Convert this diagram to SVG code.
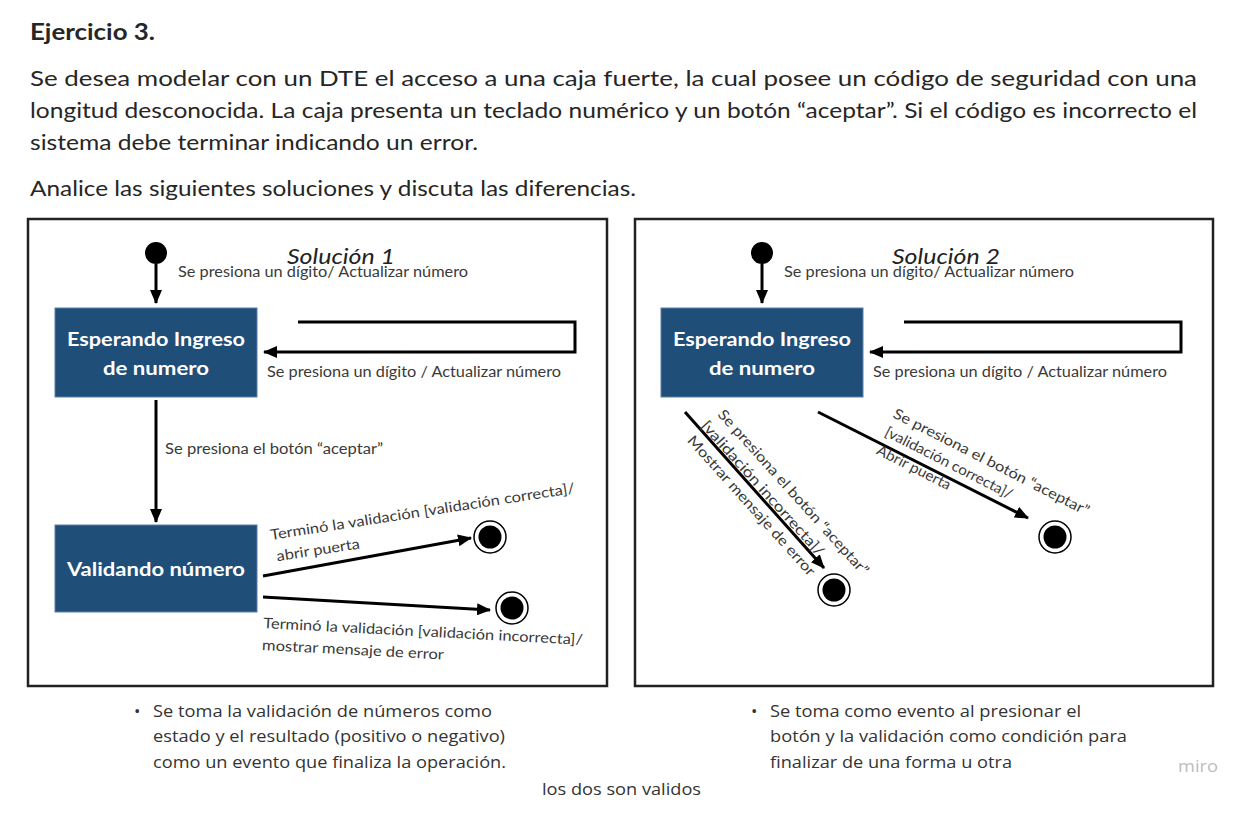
<svg xmlns="http://www.w3.org/2000/svg" width="1246" height="829" viewBox="0 0 1246 829">
<style>
.hd{font-family:Lato,"Liberation Sans",sans-serif;fill:#262626}
.lb{font-family:Lato,"Liberation Sans",sans-serif;font-size:14.5px;fill:#3a3a3a}
.st{font-family:Lato,"Liberation Sans",sans-serif;font-size:19px;font-weight:bold;fill:#ffffff}
.ti{font-family:Lato,"Liberation Sans",sans-serif;font-size:22px;font-style:italic;fill:#222}
.nt{font-family:"Open Sans","Liberation Sans",sans-serif;font-size:17px;fill:#333}
.frame{fill:#fff;stroke:#222;stroke-width:2.5}
.state{fill:#1f4e79;stroke:#5b7fa6;stroke-width:1}
.ln{fill:none;stroke:#000;stroke-width:3}
</style>
<defs>
<marker id="ah" markerUnits="userSpaceOnUse" markerWidth="14" markerHeight="12" refX="13" refY="6" orient="auto">
<path d="M0,0 L14,6 L0,12 Z" fill="#000"/>
</marker>
</defs>
<rect width="1246" height="829" fill="#fff"/>

<g id="header">
<text class="hd" x="30" y="40" font-size="23" font-weight="bold" textLength="125" lengthAdjust="spacingAndGlyphs">Ejercicio 3.</text>
<text class="hd" x="30" y="86" font-size="22" textLength="1167" lengthAdjust="spacingAndGlyphs">Se desea modelar con un DTE el acceso a una caja fuerte, la cual posee un código de seguridad con una</text>
<text class="hd" x="30" y="118" font-size="22" textLength="1167" lengthAdjust="spacingAndGlyphs">longitud desconocida. La caja presenta un teclado numérico y un botón “aceptar”. Si el código es incorrecto el</text>
<text class="hd" x="30" y="150" font-size="22" textLength="448" lengthAdjust="spacingAndGlyphs">sistema debe terminar indicando un error.</text>
<text class="hd" x="30" y="196" font-size="22" textLength="606" lengthAdjust="spacingAndGlyphs">Analice las siguientes soluciones y discuta las diferencias.</text>
</g>

<g id="frame1"><rect class="frame" x="28" y="219" width="579" height="467"/></g>
<g id="frame2"><rect class="frame" x="635" y="219" width="578" height="467"/></g>

<g id="titles">
<text class="ti" x="287" y="264" textLength="108" lengthAdjust="spacingAndGlyphs">Solución 1</text>
<text class="ti" x="892" y="264" textLength="108" lengthAdjust="spacingAndGlyphs">Solución 2</text>
</g>

<!-- Solution 1 nodes -->
<g id="s1-initial"><circle cx="156" cy="253" r="11" fill="#000"/></g>
<g id="s1-esperando">
<rect class="state" x="55" y="308" width="202" height="89"/>
<text class="st" x="156" y="346" text-anchor="middle" textLength="178" lengthAdjust="spacingAndGlyphs">Esperando Ingreso</text>
<text class="st" x="156" y="375" text-anchor="middle" textLength="106" lengthAdjust="spacingAndGlyphs">de numero</text>
</g>
<g id="s1-validando">
<rect class="state" x="55" y="525" width="202" height="87"/>
<text class="st" x="156" y="576" text-anchor="middle" textLength="178" lengthAdjust="spacingAndGlyphs">Validando número</text>
</g>
<g id="s1-final-ok"><circle cx="490" cy="537" r="16" fill="#fff" stroke="#000" stroke-width="1.5"/><circle cx="490" cy="537" r="11.5" fill="#000"/></g>
<g id="s1-final-err"><circle cx="512" cy="608" r="16" fill="#fff" stroke="#000" stroke-width="1.5"/><circle cx="512" cy="608" r="11.5" fill="#000"/></g>

<!-- Solution 2 nodes -->
<g id="s2-initial"><circle cx="762" cy="253" r="11" fill="#000"/></g>
<g id="s2-esperando">
<rect class="state" x="661" y="308" width="202" height="89"/>
<text class="st" x="762" y="346" text-anchor="middle" textLength="178" lengthAdjust="spacingAndGlyphs">Esperando Ingreso</text>
<text class="st" x="762" y="375" text-anchor="middle" textLength="106" lengthAdjust="spacingAndGlyphs">de numero</text>
</g>
<g id="s2-final-err"><circle cx="834" cy="590" r="16" fill="#fff" stroke="#000" stroke-width="1.5"/><circle cx="834" cy="590" r="11.5" fill="#000"/></g>
<g id="s2-final-ok"><circle cx="1055" cy="537" r="16" fill="#fff" stroke="#000" stroke-width="1.5"/><circle cx="1055" cy="537" r="11.5" fill="#000"/></g>

<g id="connectors">
<line class="ln" x1="156" y1="264" x2="156" y2="303" marker-end="url(#ah)"/>
<polyline class="ln" points="298,322 575,322 575,352 264,352" marker-end="url(#ah)"/>
<line class="ln" x1="156" y1="400" x2="156" y2="522" marker-end="url(#ah)"/>
<line class="ln" x1="263" y1="576" x2="471" y2="538" marker-end="url(#ah)"/>
<line class="ln" x1="263" y1="597" x2="490" y2="610" marker-end="url(#ah)"/>

<line class="ln" x1="762" y1="264" x2="762" y2="303" marker-end="url(#ah)"/>
<polyline class="ln" points="904,322 1181,322 1181,352 870,352" marker-end="url(#ah)"/>
<line class="ln" x1="685" y1="412" x2="824" y2="568" marker-end="url(#ah)"/>
<line class="ln" x1="818" y1="412" x2="1028" y2="518" marker-end="url(#ah)"/>
</g>

<g id="labels">
<text class="lb" x="178" y="277" textLength="290" lengthAdjust="spacingAndGlyphs">Se presiona un dígito/ Actualizar número</text>
<text class="lb" x="267" y="377" textLength="294" lengthAdjust="spacingAndGlyphs">Se presiona un dígito / Actualizar número</text>
<text class="lb" x="165" y="454" textLength="218" lengthAdjust="spacingAndGlyphs">Se presiona el botón “aceptar”</text>
<text class="lb" transform="translate(271,540) rotate(-8.8)"><tspan x="0" y="0" textLength="308" lengthAdjust="spacingAndGlyphs">Terminó la validación [validación correcta]/</tspan><tspan x="3" y="22" textLength="84" lengthAdjust="spacingAndGlyphs">abrir puerta</tspan></text>
<text class="lb" transform="translate(263,628) rotate(3)"><tspan x="0" y="0" textLength="320" lengthAdjust="spacingAndGlyphs">Terminó la validación [validación incorrecta]/</tspan><tspan x="0" y="22" textLength="182" lengthAdjust="spacingAndGlyphs">mostrar mensaje de error</tspan></text>

<text class="lb" x="784" y="277" textLength="290" lengthAdjust="spacingAndGlyphs">Se presiona un dígito/ Actualizar número</text>
<text class="lb" x="873" y="377" textLength="294" lengthAdjust="spacingAndGlyphs">Se presiona un dígito / Actualizar número</text>

<text class="lb" transform="translate(717,415) rotate(48)"><tspan x="0" y="0" textLength="217" lengthAdjust="spacingAndGlyphs">Se presiona el botón “aceptar”</tspan><tspan x="-3" y="20" textLength="176" lengthAdjust="spacingAndGlyphs">[validación incorrecta]/</tspan><tspan x="-1" y="40" textLength="183" lengthAdjust="spacingAndGlyphs">Mostrar mensaje de error</tspan></text>
<text class="lb" transform="translate(892,417) rotate(27)"><tspan x="0" y="0" textLength="218" lengthAdjust="spacingAndGlyphs">Se presiona el botón “aceptar”</tspan><tspan x="1" y="20" textLength="141" lengthAdjust="spacingAndGlyphs">[validación correcta]/</tspan><tspan x="2" y="40" textLength="81" lengthAdjust="spacingAndGlyphs">Abrir puerta</tspan></text>
</g>

<g id="notes">
<text class="nt" x="134" y="717" font-size="10">•</text>
<text class="nt" x="153" y="717" textLength="339" lengthAdjust="spacingAndGlyphs">Se toma la validación de números como</text>
<text class="nt" x="153" y="742" textLength="352" lengthAdjust="spacingAndGlyphs">estado y el resultado (positivo o negativo)</text>
<text class="nt" x="153" y="768" textLength="353" lengthAdjust="spacingAndGlyphs">como un evento que finaliza la operación.</text>
<text class="nt" x="751" y="717" font-size="10">•</text>
<text class="nt" x="770" y="717" textLength="311" lengthAdjust="spacingAndGlyphs">Se toma como evento al presionar el</text>
<text class="nt" x="770" y="742" textLength="357" lengthAdjust="spacingAndGlyphs">botón y la validación como condición para</text>
<text class="nt" x="770" y="768" textLength="242" lengthAdjust="spacingAndGlyphs">finalizar de una forma u otra</text>
<text class="nt" x="542" y="795" textLength="159" lengthAdjust="spacingAndGlyphs">los dos son validos</text>
<text class="nt" x="1178" y="772" textLength="40" lengthAdjust="spacingAndGlyphs" style="fill:#bdbdbd">miro</text>
</g>
</svg>
